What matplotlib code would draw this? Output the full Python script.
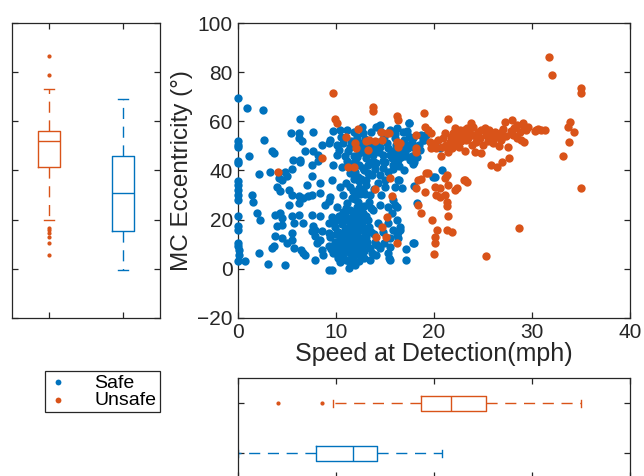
import numpy as np
import matplotlib
matplotlib.use('Agg')
import matplotlib.pyplot as plt

plt.rcParams['font.family'] = ['Liberation Sans', 'DejaVu Sans']

BLUE = '#0072BD'
ORANGE = '#D95319'
DARK = '#262626'

# (speed mph, eccentricity deg)
safe_pts = [
    (0, 69.6), (0.95, 65.5), (2.6, 64.8), (6.4, 61), (5.4, 55.3), (6.2, 55.3), (7.7, 55.6),
    (6.2, 53.3), (6.6, 51.9), (2.7, 52.3), (0, 51.9), (0, 50.5), (0, 49.4), (3.5, 47.8), (3.7, 47.1),
    (8.6, 50.5), (9.3, 51.2), (6.9, 47.8), (7.7, 47.8), (8.2, 46.5), (1.2, 46), (0, 43.7),
    (0, 43.1), (5.6, 44.4), (6.4, 44.4), (6.4, 43.3), (7.6, 42.4), (8.2, 43.7), (2.2, 38.7),
    (3.3, 39.3), (4.8, 39.3), (5.5, 40.4), (4.2, 37), (4.5, 36.3), (5, 37.6), (7.6, 37.6),
    (0, 35.6), (0, 34.2), (0, 32.2), (0, 30.2), (0, 28.1), (4, 33.3), (4.3, 31.5), (5.2, 32.2),
    (5.5, 30.2), (6.2, 29.5), (6.7, 28.8), (7.2, 29.5), (7.6, 30.2), (8.4, 30.8), (8.4, 34.9),
    (7.1, 34.2), (1.5, 30.2), (1.6, 27), (2.0, 22.7), (2.3, 20), (5.2, 26.1), (6.2, 26.8),
    (8.9, 26.1), (9.3, 27.4), (0, 21.3), (0, 17.3), (0, 15.9), (3.8, 22), (4.3, 22.7),
    (4.5, 20.7), (4, 17.3), (4.5, 17.9), (3.8, 13.2), (4.5, 12.5), (5.5, 21.3), (5.7, 18.6),
    (5.5, 14.5), (5.5, 11.8), (6.2, 22), (6.7, 18.6), (7.7, 17.3), (7.6, 15.2), (8.4, 21.6),
    (7.6, 22), (3.7, 9.1), (3.5, 8.4), (5, 10.5), (5.7, 8.4), (6.5, 7.7), (6.7, 6.4), (6.9, 5.7),
    (0, 10.5), (0, 9.1), (0.1, 7.7), (0.1, 5.7), (0, 3), (0.8, 3), (2.2, 6.4), (3.1, 1.9),
    (4.8, 1.4), (7.9, 13.2), (8.1, 10.5), (8.4, 11.8), (8.6, 7.7), (9.3, 9.1), (8.7, 5.7),
    (7.9, 3.7), (9.3, -0.4), (9.3, 18.6), (9.3, 14.5), (8.6, 15.2), (7.9, 15.9),
    # 9-17 mph upper group
    (9.4, 52.4), (9.7, 56.2), (10.4, 56.5), (11.1, 56.5), (11.8, 55.8), (12.8, 55.2), (14.1, 57.9),
    (14.5, 58.6), (15.5, 56.5), (16.2, 57.2), (10.1, 50.4), (10.7, 51.1), (11.4, 49.7),
    (12.8, 49.7), (13.5, 50.4), (14.5, 49.7), (15.3, 49.0), (16.0, 47.7), (10.1, 46.3),
    (10.9, 45.7), (11.8, 45.7), (12.4, 47.0), (13.1, 45.0), (13.8, 46.3), (14.8, 46.3),
    (15.7, 45.0), (16.3, 44.3), (9.7, 42.3), (10.6, 41.6), (12.4, 42.3), (13.3, 42.3),
    (14.1, 42.9), (14.8, 40.9), (15.8, 42.3), (11.4, 38.9), (12.3, 37.5), (13.3, 38.9),
    (14.5, 38.2), (15.3, 39.5), (11.2, 48), (12, 44), (12.6, 47.5), (13, 53), (13.8, 44),
    (14.4, 47.5), (15, 43.5), (15.6, 48), (16.5, 50), (17, 47), (11.5, 42.5), (12.9, 40),
    (14, 40.5), (12.2, 53.5), (14.9, 53.5), (16.8, 55.5), (15.2, 51), (13.6, 55.5), (12, 39.5),
    (12.7, 57.8), (14.4, 58.2), (17.4, 59.3), (17.2, 55.9), (17.5, 53.8),
    (10.5, 53.5), (11.5, 52), (12.5, 51), (13.2, 47), (14.2, 51.5), (14.8, 44), (15.5, 46.5),
    (16.1, 50.5), (16.6, 45.5), (17.3, 49), (17.8, 46), (18.3, 45.5), (11.1, 44), (12.2, 45.5),
    (13.6, 43), (15.8, 40.5), (16.4, 42), (10.3, 48.5), (11.9, 50.5), (13.9, 49), (14.6, 55.5),
    (16.0, 55), (17.8, 51), (12.8, 41), (13.7, 38),
    # 9-17 mph middle group
    (9.6, 36.1), (10.4, 33.4), (11.4, 33.4), (12.4, 35.5), (13.1, 34.1), (14.3, 34.8),
    (15.0, 36.1), (16.0, 33.4), (9.4, 29.3), (10.7, 30.0), (11.6, 28.7), (12.8, 32.1),
    (13.5, 30.0), (14.6, 30.0), (15.8, 28.0), (10.1, 25.3), (11.1, 26.6), (12.3, 27.3),
    (14.5, 25.9), (15.3, 25.3), (11.8, 36.5), (13.1, 36), (12.5, 30.5), (11, 35), (12.0, 28.5),
    (13.4, 27), (13.9, 32.5), (15, 33.4), (16.4, 36.1), (12.6, 36.5), (12.4, 33), (13.0, 30.5),
    (12.9, 25.5), (13.6, 24.5), (12.2, 31), (11.7, 31.5),
    # 9-17 mph lower group
    (10.7, 23.2), (11.8, 23.2), (12.8, 22.6), (13.8, 23.9), (15.7, 22.6), (9.6, 21.2),
    (10.4, 19.8), (11.4, 19.2), (12.3, 20.5), (13.3, 19.8), (14.3, 18.5), (15.3, 18.5),
    (16.2, 19.8), (9.9, 17.1), (10.9, 15.8), (11.9, 16.4), (12.8, 17.1), (13.6, 15.1),
    (14.8, 15.1), (15.8, 15.8), (9.4, 13.0), (10.4, 12.4), (11.3, 13.0), (12.1, 11.7),
    (13.1, 13.0), (14.0, 11.0), (15.5, 12.4), (16.3, 12.4), (10.1, 9.0), (11.1, 9.0),
    (11.9, 7.6), (12.8, 9.6), (13.5, 8.3), (14.5, 8.3), (15.5, 9.0), (9.7, 6.3), (10.7, 4.9),
    (11.8, 5.6), (12.6, 5.6), (14.1, 5.6), (15.3, 6.3), (11.4, 2.2), (12.4, 2.9), (13.5, 3.5),
    (15.5, 3.5), (9.6, -0.5), (11.3, 0.1), (11.5, 2.9), (10.5, 10), (11, 11), (11.5, 14),
    (12, 18), (12.5, 10), (11, 20), (10.8, 7), (11.6, 8.5), (12.2, 14), (11.3, 17), (10.2, 15),
    (12.7, 12.5), (11.9, 21.5), (10.6, 18), (12.1, 6.5), (11.0, 3.5), (11.7, 10.5),
    (12.9, 15.5), (13.2, 10.8), (10.3, 8), (9.9, 11), (11.4, 24), (12.5, 24.5), (13.0, 20),
    (10.9, 22), (15.4, 4.2), (16.5, 15.8), (16.2, 13.7),
    (9.8, 19), (10.3, 21.5), (10.8, 20), (11.6, 21), (12.4, 22), (13.1, 21.5), (10.0, 14),
    (10.7, 13.5), (11.2, 15.5), (11.8, 13), (12.4, 16), (12.6, 19), (13.4, 17), (9.5, 8),
    (10.1, 6), (10.6, 10.5), (11.4, 6.5), (12.3, 8.5), (12.9, 7), (11.6, 4), (10.4, 2.5),
    (12.0, 1.5), (12.9, 4.5), (13.9, 14), (14.2, 9.5), (14.9, 10.5), (13.7, 6.5), (11.0, 24.5),
    (12.2, 25.2), (10.2, 4.5),
    # 16-21 mph
    (17.4, 59.2), (16, 53.1), (16.9, 52.4), (17.4, 53.8), (17.9, 53.1), (18.7, 54.5),
    (18.9, 52.4), (17.2, 50.4), (17.9, 49.7), (18.6, 48.4), (16.7, 48.4), (16.2, 46.3),
    (17, 45.7), (17.5, 44.3), (16, 42.9), (16.9, 40.2), (18, 43.6), (16.3, 36.1), (16.7, 32.7),
    (17.9, 42.8), (19.2, 54.5), (19.0, 52.5), (18.5, 50.5), (20.6, 49.3), (20.8, 40.2),
    (18.0, 33.7), (20.1, 37.5), (19.9, 37.5), (16, 25.9), (16.2, 25.3), (18.3, 26.9),
    (16.5, 17.1), (16.3, 15.1), (18, 10.3), (17.9, 10.3), (17.1, 7.9), (17.1, 3.5),
]

unsafe_pts = [
    (4.1, 39.3), (8.6, 45.0),
    (9.7, 71.7), (13.8, 66.0), (13.8, 64.4), (9.9, 60.9), (10.1, 59.5), (12.3, 56.8),
    (16.2, 62.2), (16.3, 60.6), (14.6, 55.8), (15.2, 55.4), (15.4, 55.2), (11.0, 53.5),
    (12.0, 51.1), (12.1, 49.1), (13.05, 52.2), (13.4, 52.4), (13.3, 48.4), (14.0, 52.2),
    (14.75, 52.4), (16.2, 51.4), (16.3, 49.7), (11.25, 41.3), (11.8, 41.3), (15.5, 36.8),
    (14.0, 32.3), (15.7, 29.6), (15.2, 21.2), (14.7, 17.1), (14.1, 13.0), (15.1, 13.0),
    (16.2, 10.3),
    (19.0, 63.6), (19.1, 57.9), (19.4, 56.5), (19.7, 55.2), (21.4, 60.9), (22.1, 57.2),
    (21.9, 55.2), (22.6, 54.5), (23.0, 56.5), (21.1, 55.2), (20.9, 53.1), (21.6, 51.8),
    (22.3, 51.1), (21.8, 49.0), (21.4, 47.7), (16.5, 51.1), (18.2, 54.5), (18.2, 49.0),
    (18.2, 47.7), (19.6, 51.8), (20.1, 51.1), (20.4, 52.4), (20.2, 49.0), (19.7, 49.0),
    (20.8, 49.7), (20.7, 45.9), (19.4, 39.1), (19.2, 39.1), (18.7, 36.4), (18.4, 36.1),
    (18.2, 32.7), (19.1, 31.4), (20.1, 33.1), (20.6, 32.7), (21.1, 36.8), (21.3, 38.2),
    (21.4, 34.1), (21.1, 30.0), (20.2, 30.0), (20.6, 29.3), (22.1, 32.1), (22.3, 32.7),
    (23.1, 36.1), (21.3, 27.3), (21.3, 25.5), (18.4, 25.9), (18.7, 22.6), (19.8, 19.8),
    (21.4, 21.5), (20.3, 15.8), (21.3, 15.8), (21.8, 15.1), (20.1, 12.8), (20.1, 10.3),
    (20.0, 5.8),
    (22.6, 56.5), (23.1, 55.2), (23.5, 53.1), (24.0, 54.5), (24.3, 51.8), (23.8, 59.2),
    (24.0, 57.9), (24.8, 56.5), (25.2, 57.2), (24.7, 53.1), (25.3, 54.5), (25.8, 54.5),
    (26.0, 51.1), (26.4, 53.8), (26.7, 55.2), (26.9, 53.8), (25.0, 50.4), (24.8, 47.3),
    (27.2, 59.9), (27.9, 60.6), (28.1, 57.2), (28.4, 58.6), (29.1, 59.2), (29.2, 57.2),
    (29.4, 56.5), (28.4, 53.1), (28.9, 52.4), (29.2, 51.8), (30.4, 56.5), (30.9, 56.5),
    (27.5, 49.5), (27.6, 45.0), (26.9, 43.6), (26.4, 41.3), (25.8, 42.3), (23.0, 36.1),
    (23.4, 35.1), (28.6, 16.4), (25.3, 5.1),
    (22.9, 53.5), (23.3, 52.5), (23.6, 56), (24.5, 55.5), (25.5, 52), (26.2, 55.5), (22.0, 53),
    (21.2, 50.5), (23.9, 50.5), (25.6, 56.5), (27.3, 54), (28.0, 54.5), (28.8, 55.5),
    (26.6, 50), (22.5, 49.5), (23.2, 48), (24.2, 47.5),
    (21.7, 53.5), (22.7, 52), (24.4, 53), (25.9, 53), (26.8, 52.5), (27.8, 56), (29.6, 57.8),
    (23.4, 57.5), (25.3, 55.8), (27.0, 57),
    (31.7, 86.4), (32.0, 78.9), (35.0, 73.5), (35.0, 71.5), (33.8, 59.9), (33.6, 57.9),
    (34.3, 55.8), (33.7, 51.8), (33.1, 45.9), (35.0, 33.0), (31.3, 56.5), (30.3, 55.9),
    (30.6, 56.9),
]

# box plot summaries: [Unsafe, Safe]
ecc_lo = [19.8, -0.5]
ecc_q1 = [41.5, 15.5]
ecc_med = [52.1, 31.0]
ecc_q3 = [56.2, 46.0]
ecc_hi = [73.1, 69.0]
ecc_out = [[86.7, 79.0, 16.7, 15.8, 14.4, 12.8, 10.3, 5.5], []]

spd_lo = [9.7, 0.0]
spd_q1 = [18.7, 8.0]
spd_med = [21.7, 11.7]
spd_q3 = [25.3, 14.2]
spd_hi = [35.0, 20.8]
spd_out = [[4.1, 8.6], []]

group_colors = [ORANGE, BLUE]


def make_stats(lo, q1, med, q3, hi, out):
    return [dict(whislo=lo[i], q1=q1[i], med=med[i], q3=q3[i], whishi=hi[i], fliers=out[i])
            for i in range(len(lo))]


def style_axes(ax):
    for sp in ax.spines.values():
        sp.set_color(DARK)
        sp.set_linewidth(0.9)
    ax.tick_params(direction='in', top=True, right=True, length=4, width=0.9,
                   colors=DARK, labelsize=15)


def draw_boxes(ax, stats, vert):
    parts = ax.bxp(stats, positions=[1, 2], widths=0.3, vert=vert, showfliers=True,
                   capwidths=0.14, manage_ticks=False)
    for i, c in enumerate(group_colors):
        parts['boxes'][i].set(color=c, linewidth=1.0)
        parts['medians'][i].set(color=c, linewidth=1.0)
        for w in parts['whiskers'][2 * i:2 * i + 2]:
            w.set(color=c, linewidth=1.0, linestyle=(0, (8, 5.5)))
        for cap in parts['caps'][2 * i:2 * i + 2]:
            cap.set(color=c, linewidth=1.0)
        parts['fliers'][i].set(marker='o', markersize=2, markerfacecolor=c,
                               markeredgecolor=c, linestyle='none')


fig = plt.figure(figsize=(6.44, 4.76), dpi=100)
ax = fig.add_axes([0.369, 0.3326, 0.610, 0.6186])
ax_l = fig.add_axes([0.019, 0.3326, 0.2293, 0.6186])
ax_b = fig.add_axes([0.369, -0.0048, 0.610, 0.2101])

safe = np.array(safe_pts)
unsafe = np.array(unsafe_pts)
h_safe = ax.scatter(safe[:, 0], safe[:, 1], s=36, color=BLUE, linewidths=0, label='Safe',
                    clip_on=False, zorder=3)
h_unsafe = ax.scatter(unsafe[:, 0], unsafe[:, 1], s=36, color=ORANGE, linewidths=0,
                      label='Unsafe', clip_on=False, zorder=3)
ax.set_xlim(0, 40)
ax.set_ylim(-20, 100)
ax.set_xticks(np.arange(0, 41, 10))
ax.set_yticks(np.arange(-20, 101, 20))
ax.set_xlabel('Speed at Detection(mph)', fontsize=18, color=DARK, labelpad=0)
ax.set_ylabel('MC Eccentricity (°)', fontsize=17.5, color=DARK, labelpad=3)
style_axes(ax)

draw_boxes(ax_l, make_stats(ecc_lo, ecc_q1, ecc_med, ecc_q3, ecc_hi, ecc_out), True)
ax_l.set_xlim(0.5, 2.5)
ax_l.set_ylim(-20, 100)
ax_l.set_xticks([1, 2])
ax_l.set_yticks(np.arange(-20, 101, 20))
ax_l.set_xticklabels([])
ax_l.set_yticklabels([])
style_axes(ax_l)

draw_boxes(ax_b, make_stats(spd_lo, spd_q1, spd_med, spd_q3, spd_hi, spd_out), False)
ax_b.set_xlim(0, 40)
ax_b.set_ylim(2.5, 0.5)
ax_b.set_xticks(np.arange(0, 41, 10))
ax_b.set_yticks([1, 2])
ax_b.set_xticklabels([])
ax_b.set_yticklabels([])
style_axes(ax_b)

leg = fig.legend(handles=[h_safe, h_unsafe], loc='upper left', bbox_to_anchor=(0.0699, 0.2206),
                 borderaxespad=0, fancybox=False, framealpha=1, edgecolor=DARK, fontsize=14,
                 handletextpad=1.4, borderpad=0.15, labelspacing=0.0, markerscale=0.7,
                 handlelength=1.0, scatterpoints=1)
leg.get_frame().set_linewidth(0.9)

fig.savefig('out.png', dpi=100)
